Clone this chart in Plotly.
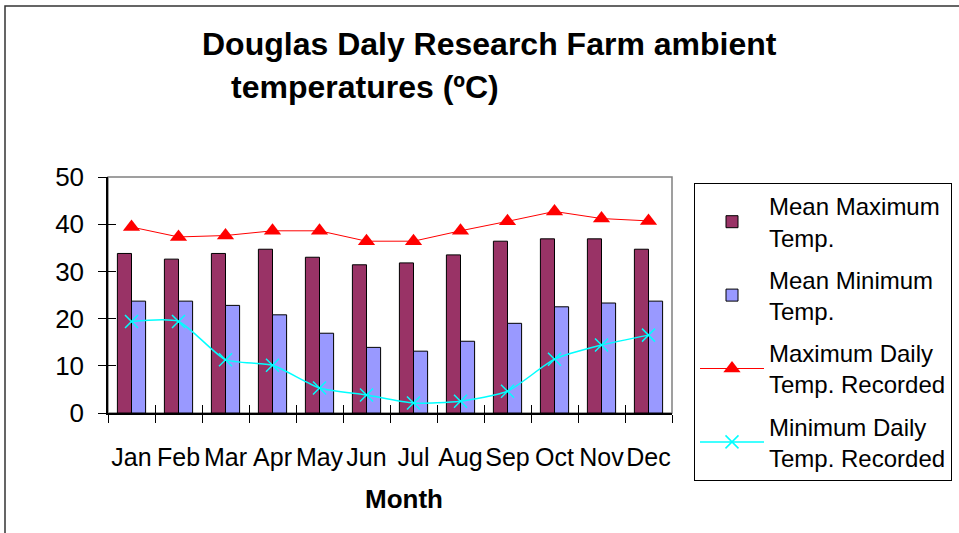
import plotly.graph_objects as go

months = ["Jan", "Feb", "Mar", "Apr", "May", "Jun", "Jul", "Aug", "Sep", "Oct", "Nov", "Dec"]
mean_max = [33.8, 32.6, 33.8, 34.7, 33.0, 31.4, 31.8, 33.5, 36.4, 36.9, 36.9, 34.7]
mean_min = [23.7, 23.7, 22.8, 20.8, 16.9, 13.9, 13.1, 15.2, 19.0, 22.5, 23.3, 23.7]
max_daily = [39.4, 37.3, 37.6, 38.6, 38.6, 36.4, 36.4, 38.6, 40.6, 42.7, 41.2, 40.7]
min_daily = [19.4, 19.4, 11.3, 10.1, 5.3, 3.8, 2.1, 2.5, 4.6, 11.4, 14.4, 16.5]

names = ["Mean Maximum<br>Temp.", "Mean Minimum<br>Temp.",
         "Maximum Daily<br>Temp. Recorded", "Minimum Daily<br>Temp. Recorded"]

FONT = "Liberation Sans, Arial, sans-serif"

fig = go.Figure()
fig.add_trace(go.Bar(x=months, y=mean_max, name=names[0], legendgroup="a",
                     marker=dict(color="#993366", line=dict(color="black", width=1))))
fig.add_trace(go.Bar(x=months, y=mean_min, name=names[1], legendgroup="b",
                     marker=dict(color="#9999FF", line=dict(color="black", width=1))))
fig.add_trace(go.Scatter(x=months, y=max_daily, name=names[2], legendgroup="c",
                         mode="lines+markers",
                         line=dict(color="#FF0000", width=1),
                         marker=dict(symbol="triangle-up", size=15, color="#FF0000")))
fig.add_trace(go.Scatter(x=months, y=min_daily, name=names[3], legendgroup="d",
                         mode="lines+markers",
                         line=dict(color="#00FFFF", width=1.5, shape="spline", smoothing=0.6),
                         marker=dict(symbol="x-thin", size=13, color="#00FFFF",
                                     line=dict(color="#00FFFF", width=1.5))))

W, H = 959, 533
L, T, B = 108, 177, 120
PLOT_R = 672
paper_w = W - L
ph = H - T - B

def px(x):
    return (x - L) / paper_w

def py(y):
    return (H - B - y) / ph

dom = [0, px(PLOT_R)]

fig.update_layout(
    width=W, height=H,
    margin=dict(l=L, r=0, t=T, b=B, pad=0),
    paper_bgcolor="white", plot_bgcolor="white",
    font=dict(family=FONT, color="black"),
    barmode="group", bargap=0.4, bargroupgap=0,
    showlegend=True,
    legend=dict(x=px(694), y=py(183), xanchor="left", yanchor="top",
                bordercolor="black", borderwidth=1, bgcolor="white",
                font=dict(size=24, family=FONT), tracegroupgap=8,
                itemwidth=64, traceorder="grouped", maxheight=420),
    xaxis=dict(type="category", categoryorder="array", categoryarray=months,
               range=[-0.5, 11.5], autorange=False, domain=dom,
               showline=True, linecolor="black", linewidth=1.5,
               ticks="outside", ticklen=8, tickcolor="black", tickwidth=1,
               tickson="boundaries", showgrid=False, zeroline=False, tickangle=0,
               tickfont=dict(size=25, family=FONT), ticklabelstandoff=21),
    yaxis=dict(range=[0, 50], dtick=10, showline=True, linecolor="black", linewidth=1.5,
               ticks="outside", ticklen=8, tickcolor="black", tickwidth=1,
               showgrid=False, zeroline=False, tickfont=dict(size=26, family=FONT),
               ticklabelstandoff=9),
    xaxis2=dict(overlaying="x", anchor="y", range=[-0.5, 11.5],
                tickvals=[i - 0.5 for i in range(13)], ticks="inside", ticklen=8,
                tickcolor="black", showticklabels=False, showline=False,
                showgrid=False, zeroline=False, side="bottom"),
    yaxis2=dict(overlaying="y", anchor="x", range=[0, 50], dtick=10,
                ticks="inside", ticklen=8, tickcolor="black",
                showticklabels=False, showline=False, showgrid=False,
                zeroline=False, side="left"),
    shapes=[
        dict(type="rect", xref="x domain", yref="y domain", x0=0, x1=1, y0=0, y1=1,
             line=dict(color="#808080", width=1.5), layer="below"),
        dict(type="rect", xref="paper", yref="paper", x0=px(5), x1=px(1100),
             y0=py(700), y1=py(6), line=dict(color="#333333", width=1.5), layer="below"),
    ],
    annotations=[
        dict(text="<b>Douglas Daly Research Farm ambient</b>", xref="paper", yref="paper",
             x=px(200), y=py(44), xanchor="left", yanchor="middle", showarrow=False,
             font=dict(size=32, family=FONT)),
        dict(text="<b>temperatures (ºC)</b>", xref="paper", yref="paper",
             x=px(229), y=py(87), xanchor="left", yanchor="middle", showarrow=False,
             font=dict(size=32, family=FONT)),
        dict(text="<b>Month</b>", xref="paper", yref="paper",
             x=px(404), y=py(499), xanchor="center", yanchor="middle", showarrow=False,
             font=dict(size=26, family=FONT)),
    ],
)

# invisible helper trace so the overlay tick axes render
fig.add_trace(go.Scatter(x=[-0.5, 11.5], y=[0, 0], xaxis="x2", yaxis="y2",
                         mode="lines", line=dict(width=0), showlegend=False,
                         hoverinfo="skip"))

fig.write_html("out.html", config={"displayModeBar": False},
               post_script="document.body.style.margin='0';")
